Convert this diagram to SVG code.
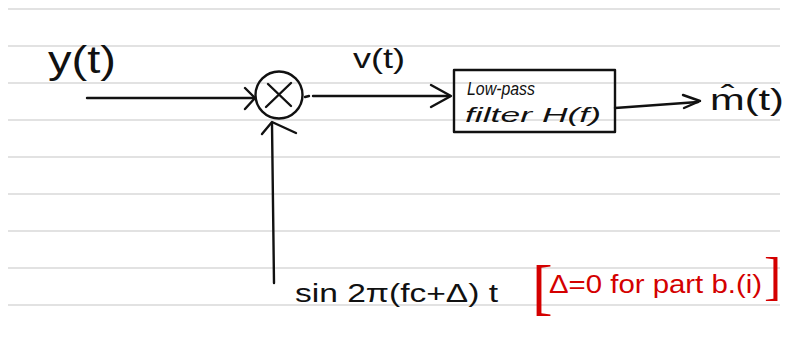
<svg xmlns="http://www.w3.org/2000/svg" width="786" height="340" viewBox="0 0 786 340">
  <style>
    .rule { stroke: #d9d9d9; stroke-width: 1.5; }
    .ink { stroke: #111; stroke-width: 2.4; fill: none; stroke-linecap: round; stroke-linejoin: round; }
    .txt { font-family: "Liberation Sans", "DejaVu Sans", sans-serif; fill: #111; }
    .red { font-family: "Liberation Sans", "DejaVu Sans", sans-serif; fill: #d40000; }
    .brk { font-family: "Liberation Serif", "DejaVu Serif", serif; fill: #d40000; }
  </style>
  <rect width="786" height="340" fill="#ffffff"/>
  <g id="paper-lines">
    <line class="rule" x1="8" y1="9" x2="780" y2="9"/>
    <line class="rule" x1="8" y1="46" x2="780" y2="46"/>
    <line class="rule" x1="8" y1="83" x2="780" y2="83"/>
    <line class="rule" x1="8" y1="120" x2="780" y2="120"/>
    <line class="rule" x1="8" y1="157" x2="780" y2="157"/>
    <line class="rule" x1="8" y1="194" x2="780" y2="194"/>
    <line class="rule" x1="8" y1="231" x2="780" y2="231"/>
    <line class="rule" x1="8" y1="268" x2="780" y2="268"/>
    <line class="rule" x1="8" y1="305" x2="780" y2="305"/>
  </g>

  <g id="connectors">
    <path class="ink" d="M87 98 L254 98"/>
    <path class="ink" d="M245 88 L255 98 L245 109"/>
    <path class="ink" d="M305 97 L309 96"/>
    <path class="ink" d="M313 96 L450 96"/>
    <path class="ink" d="M431 85 L451 96 L431 107"/>
    <path class="ink" d="M615 108 L698 102"/>
    <path class="ink" d="M683 95 L700 101 L684 108"/>
    <path class="ink" d="M274 283 L272 124"/>
    <path class="ink" d="M262 134 L272 122 L296 133"/>
  </g>

  <g id="input-label">
    <text class="txt" x="48" y="73" font-size="38" textLength="68" lengthAdjust="spacingAndGlyphs">y(t)</text>
  </g>

  <g id="multiplier">
    <circle class="ink" cx="279" cy="95" r="23.5"/>
    <path class="ink" d="M268 84 L291 106 M291 83 L266 107"/>
  </g>

  <g id="v-label">
    <text class="txt" x="353" y="68" font-size="28" textLength="52" lengthAdjust="spacingAndGlyphs">v(t)</text>
  </g>

  <g id="lpf">
    <rect class="ink" x="454" y="70" width="161" height="62"/>
    <text class="txt" x="467" y="95" font-size="18" font-style="italic" textLength="68" lengthAdjust="spacingAndGlyphs">Low-pass</text>
    <text class="txt" x="465" y="122" font-size="20" font-style="italic" textLength="136" lengthAdjust="spacingAndGlyphs">filter H(f)</text>
  </g>

  <g id="output-label">
    <text class="txt" x="710" y="110" font-size="30" textLength="74" lengthAdjust="spacingAndGlyphs">m̂(t)</text>
  </g>

  <g id="carrier-label">
    <text class="txt" x="295" y="302" font-size="26" textLength="203" lengthAdjust="spacingAndGlyphs">sin 2π(fc+Δ) t</text>
  </g>

  <g id="note">
    <text class="brk" x="532" y="308" font-size="62">[</text>
    <text class="red" x="549" y="293" font-size="25" textLength="213" lengthAdjust="spacingAndGlyphs">Δ=0 for part b.(i)</text>
    <text class="brk" x="764" y="294" font-size="52">]</text>
  </g>
</svg>
